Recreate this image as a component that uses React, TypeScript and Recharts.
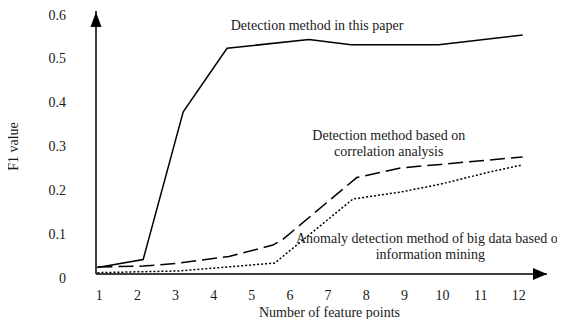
import { LineChart, Line, XAxis, YAxis, ReferenceDot, Label } from "recharts";

const xTicks = [1, 2, 3, 4, 5, 6, 7, 8, 9, 10, 11, 12];
const yTicks = [0, 0.1, 0.2, 0.3, 0.4, 0.5, 0.6];

// curve vertices: feature points -> F1 value
const paperX = [0.95, 2.15, 3.2, 4.35, 6.5, 7.6, 9.9, 12.1];
const paperF1 = [0.015, 0.033, 0.37, 0.515, 0.535, 0.523, 0.523, 0.545];
const correlationX = [0.95, 2.15, 3.1, 4.4, 5.55, 5.8, 7.75, 8.9, 9.95, 12.1];
const correlationF1 = [0.016, 0.018, 0.025, 0.04, 0.066, 0.078, 0.22, 0.242, 0.25, 0.267];
const miningX = [0.95, 3.1, 5.6, 7.65, 8.9, 9.95, 11.25, 12.1];
const miningF1 = [0.003, 0.007, 0.025, 0.171, 0.187, 0.205, 0.233, 0.249];

// in-plot captions (anchored in data space)
const noteLines = [
  ["Detection method in this paper"],
  ["Detection method based on", "correlation analysis"],
  ["Anomaly detection method of big data based on", "information mining"],
];
const noteX = [6.71, 8.59, 9.68];
const noteY = [0.568, 0.298, 0.063];

const xDomain: [number, number] = [0.913, 12.74];
const yDomain: [number, number] = [0, 0.6];

const FONT = '"Liberation Serif", "Times New Roman", serif';
const INK = "#1a1a1a";

const toRows = (xs: number[], ys: number[]) => xs.map((x, i) => ({ x, f1: ys[i] }));

const XTick = ({ x, y, payload }: any) => (
  <text x={x} y={y + 21} textAnchor="middle" dominantBaseline="central" fontSize={14} fontFamily={FONT} fill={INK}>
    {payload.value}
  </text>
);

const YTick = ({ x, y, payload }: any) => (
  <text x={x - 30} y={y + 4} textAnchor="end" dominantBaseline="central" fontSize={14} fontFamily={FONT} fill={INK}>
    {payload.value}
  </text>
);

const XTitle = ({ viewBox }: any) => (
  <text x={viewBox.x + viewBox.width / 2 + 8} y={viewBox.y + 38} textAnchor="middle" dominantBaseline="central" fontSize={14} fontFamily={FONT} fill={INK}>
    Number of feature points
  </text>
);

const YTitle = ({ viewBox }: any) => {
  const cx = 13;
  const cy = viewBox.y + viewBox.height / 2 + 4;
  return (
    <text x={cx} y={cy} transform={`rotate(-90 ${cx} ${cy})`} textAnchor="middle" dominantBaseline="central" fontSize={14} fontFamily={FONT} fill={INK}>
      F1 value
    </text>
  );
};

const arrowRight = ({ cx, cy }: any) => (
  <polygon points={`${cx},${cy} ${cx - 14},${cy - 6} ${cx - 14},${cy + 6}`} fill="#000" />
);

const arrowUp = ({ cx, cy }: any) => (
  <polygon points={`${cx},${cy + 1} ${cx - 5.5},${cy + 16} ${cx + 5.5},${cy + 16}`} fill="#000" />
);

const noteShape = (lines: string[]) => ({ cx, cy }: any) => (
  <text textAnchor="middle" fontSize={14} fontFamily={FONT} fill={INK}>
    {lines.map((t, i) => (
      <tspan key={i} x={cx} y={cy + (i - (lines.length - 1) / 2) * 16} dominantBaseline="central">
        {t}
      </tspan>
    ))}
  </text>
);

export default function App() {
  return (
    <div style={{ margin: -8, width: 565, height: 327, background: "#fff" }}>
      <style>{"body{margin:8px;background:#fff}"}</style>
      <LineChart width={565} height={327} margin={{ top: 11, right: 18, bottom: 0, left: 0 }}>
        <XAxis
          type="number"
          dataKey="x"
          domain={xDomain}
          allowDataOverflow
          ticks={xTicks}
          tick={<XTick />}
          tickLine={false}
          tickSize={0}
          tickMargin={0}
          height={53}
          axisLine={{ stroke: "#000", strokeWidth: 1.5 }}
        >
          <Label content={<XTitle />} />
        </XAxis>
        <YAxis
          type="number"
          domain={yDomain}
          allowDataOverflow
          ticks={yTicks}
          tick={<YTick />}
          tickLine={false}
          tickSize={0}
          tickMargin={0}
          width={96}
          axisLine={{ stroke: "#000", strokeWidth: 1.5 }}
        >
          <Label content={<YTitle />} />
        </YAxis>
        <Line
          data={toRows(paperX, paperF1)}
          dataKey="f1"
          type="linear"
          stroke="#000"
          strokeWidth={1.5}
          dot={false}
          isAnimationActive={false}
        />
        <Line
          data={toRows(correlationX, correlationF1)}
          dataKey="f1"
          type="linear"
          stroke="#000"
          strokeWidth={1.5}
          strokeDasharray="15 6"
          dot={false}
          isAnimationActive={false}
        />
        <Line
          data={toRows(miningX, miningF1)}
          dataKey="f1"
          type="linear"
          stroke="#000"
          strokeWidth={1.5}
          strokeDasharray="2 2"
          dot={false}
          isAnimationActive={false}
        />
        {noteLines.map((lines, i) => (
          <ReferenceDot key={i} x={noteX[i]} y={noteY[i]} r={0} ifOverflow="visible" shape={noteShape(lines)} />
        ))}
        <ReferenceDot x={xDomain[1]} y={yDomain[0]} ifOverflow="visible" shape={arrowRight} />
        <ReferenceDot x={xDomain[0]} y={yDomain[1]} ifOverflow="visible" shape={arrowUp} />
      </LineChart>
    </div>
  );
}
